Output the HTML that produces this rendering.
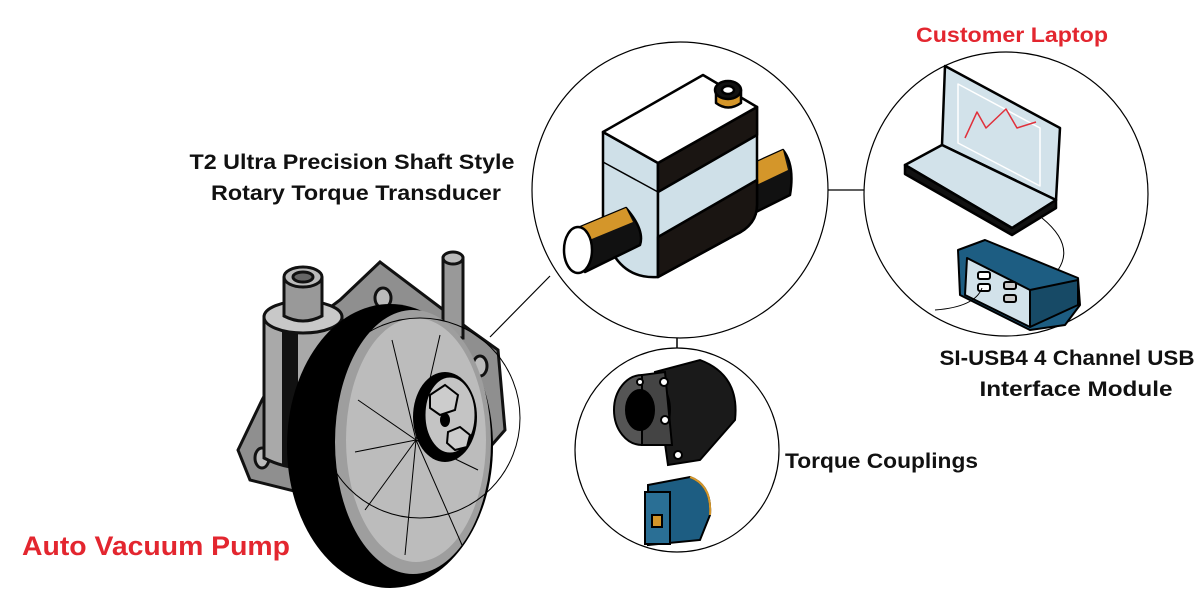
<!DOCTYPE html>
<html><head><style>
html,body{margin:0;padding:0;background:#fff;}
svg{display:block;}
text{font-family:"Liberation Sans",sans-serif;font-weight:bold;}
</style></head><body>
<svg width="1200" height="600" viewBox="0 0 1200 600" xmlns="http://www.w3.org/2000/svg">
<rect width="1200" height="600" fill="#fff"/>
<!-- connectors -->
<line x1="490" y1="337" x2="550" y2="276" stroke="#000" stroke-width="1.2"/>
<line x1="828" y1="190" x2="864" y2="190" stroke="#000" stroke-width="1.2"/>
<line x1="677" y1="335" x2="677" y2="354" stroke="#000" stroke-width="1.5"/>
<!-- circles -->
<circle cx="680" cy="190" r="148" fill="#fff" stroke="#000" stroke-width="1.2"/>
<circle cx="1006" cy="194" r="142" fill="#fff" stroke="#000" stroke-width="1.2"/>
<circle cx="677" cy="450" r="102" fill="#fff" stroke="#000" stroke-width="1.2"/>

<!-- PUMP -->
<g stroke="#111" stroke-width="3">
 <path d="M380,262 L470,330 L498,350 L505,430 L470,470 L330,500 L250,480 L238,450 L262,400 L300,330 L340,300 Z" fill="#8f8f8f"/>
 <ellipse cx="383" cy="298" rx="8" ry="10" fill="#bbb"/>
 <ellipse cx="480" cy="366" rx="7" ry="10" fill="#bbb"/>
 <ellipse cx="262" cy="458" rx="7" ry="10" fill="#bbb"/>
 <rect x="443" y="258" width="20" height="80" fill="#999"/>
 <ellipse cx="453" cy="258" rx="10" ry="6" fill="#bbb"/>
 <path d="M264,317 L264,458 Q303,478 342,458 L342,317 Z" fill="#a9a9a9"/>
 <rect x="282" y="320" width="16" height="145" fill="#111" stroke="none"/>
 <ellipse cx="303" cy="317" rx="39" ry="16" fill="#c8c8c8"/>
 <path d="M284,278 L284,316 Q303,326 322,316 L322,278 Z" fill="#999"/>
 <ellipse cx="303" cy="277" rx="19" ry="10" fill="#bbb"/>
 <ellipse cx="303" cy="277" rx="10" ry="5" fill="#666"/>
</g>
<ellipse cx="390" cy="446" rx="103" ry="142" fill="#000"/>
<ellipse cx="413" cy="442" rx="78" ry="132" fill="#9e9e9e"/>
<ellipse cx="416" cy="440" rx="70" ry="122" fill="#bcbcbc"/>
<g stroke="#000" stroke-width="1">
 <line x1="416" y1="440" x2="392" y2="340"/><line x1="416" y1="440" x2="440" y2="335"/>
 <line x1="416" y1="440" x2="358" y2="400"/><line x1="416" y1="440" x2="355" y2="452"/>
 <line x1="416" y1="440" x2="365" y2="510"/><line x1="416" y1="440" x2="405" y2="555"/>
 <line x1="416" y1="440" x2="462" y2="545"/><line x1="416" y1="440" x2="478" y2="470"/>
</g>
<ellipse cx="445" cy="417" rx="32" ry="45" fill="#000"/>
<ellipse cx="450" cy="415" rx="25" ry="38" fill="#c4c4c4" stroke="#000"/>
<polygon points="430,395 445,385 458,395 455,410 440,415 430,408" fill="#ccc" stroke="#000" stroke-width="2"/>
<polygon points="448,432 460,427 470,435 467,447 455,450 447,443" fill="#ccc" stroke="#000" stroke-width="2"/>
<ellipse cx="445" cy="420" rx="5" ry="7" fill="#000"/>
<circle cx="420" cy="418" r="100" fill="none" stroke="#000" stroke-width="1"/>

<!-- TRANSDUCER -->
<g stroke="#000" stroke-width="2.5" stroke-linejoin="round">
 <!-- right shaft -->
 <path d="M750,165 L783,150 Q795,165 790,195 L750,215 Z" fill="#111"/>
 <path d="M750,165 L783,150 L788,170 L750,188 Z" fill="#d4962a" stroke="none"/>
 <!-- left face -->
 <path d="M603,132 L658,163 L658,277 Q615,280 603,227 Z" fill="#cfe0e8"/>
 <line x1="603" y1="162" x2="658" y2="192" stroke-width="1.5"/>
 <!-- right face -->
 <path d="M658,163 L757,107 L757,205 Q757,225 735,235 L658,277 Z" fill="#cfe0e8"/>
 <path d="M658,163 L757,107 L757,135 L658,192 Z" fill="#1a1512"/>
 <path d="M658,237 L757,180 L757,205 Q757,225 735,235 L658,277 Z" fill="#1a1512"/>
 <!-- top -->
 <path d="M603,132 L703,75 L757,107 L658,163 Z" fill="#fff"/>
 <!-- left shaft -->
 <path d="M578,228 L626,208 Q645,230 640,245 L585,272 Z" fill="#111"/>
 <path d="M578,228 L626,208 L633,222 L582,243 Z" fill="#d4962a" stroke="none"/>
 <ellipse cx="578" cy="250" rx="14" ry="23" fill="#fff"/>
 <!-- connector -->
 <path d="M716,90 L716,103 Q728,112 741,103 L741,90 Z" fill="#d4962a"/>
 <ellipse cx="728" cy="90" rx="13" ry="9" fill="#111"/>
 <ellipse cx="728" cy="90" rx="6" ry="4" fill="#fff"/>
</g>

<!-- LAPTOP -->
<g stroke="#000" stroke-width="2.5" stroke-linejoin="round">
 <path d="M945,66 L1060,128 L1056,200 L942,145 Z" fill="#d2e2ea"/>
 <path d="M958,84 L1040,128 L1040,186 L958,143 Z" fill="none" stroke="#fff" stroke-width="1.5"/>
 <polyline points="965,138 977,112 986,128 1006,109 1017,128 1036,122" fill="none" stroke="#e0303b" stroke-width="1.5"/>
 <path d="M942,145 L905,165 L1012,228 L1056,200 Z" fill="#d2e2ea"/>
 <path d="M905,165 L905,174 L1012,235 L1056,208 L1056,200 L1012,228 Z" fill="#111"/>
</g>
<path d="M1042,218 Q1075,245 1058,270" fill="none" stroke="#000"/>
<!-- module -->
<g stroke="#000" stroke-width="2" stroke-linejoin="round">
 <path d="M958,250 L985,240 L1078,278 L1080,305 L1065,325 L1030,330 L960,295 Z" fill="#1d5d82"/>
 <path d="M967,258 L1030,290 L1030,327 L965,295 Z" fill="#d2e2ea"/>
 <path d="M1030,290 L1078,280 L1078,305 L1030,327 Z" fill="#174a66"/>
 <rect x="978" y="272" width="12" height="7" rx="2" fill="#fff"/><rect x="978" y="284" width="12" height="7" rx="2" fill="#fff"/>
 <rect x="1004" y="282" width="12" height="7" rx="2" fill="#ccc"/><rect x="1004" y="295" width="12" height="7" rx="2" fill="#ccc"/>
</g>
<path d="M982,288 Q975,307 935,310" fill="none" stroke="#000"/>

<!-- COUPLINGS -->
<g stroke="#000" stroke-width="2">
 <path d="M655,372 L700,360 Q740,375 735,420 L700,460 L668,465 Z" fill="#1a1a1a"/>
 <ellipse cx="642" cy="410" rx="28" ry="35" fill="#555"/>
 <path d="M642,375 L665,372 L672,445 L642,445 Z" fill="#444"/>
 <ellipse cx="640" cy="410" rx="14" ry="20" fill="#000"/>
 <circle cx="664" cy="382" r="4" fill="#fff"/><circle cx="665" cy="420" r="4" fill="#fff"/><circle cx="678" cy="455" r="4" fill="#fff"/><circle cx="640" cy="382" r="3" fill="#fff"/>
 <path d="M648,485 L690,477 Q712,485 710,515 L700,540 L648,545 Z" fill="#1d5d82"/>
 <path d="M690,477 Q712,485 710,515" fill="none" stroke="#d4962a" stroke-width="2"/>
 <rect x="645" y="492" width="25" height="52" fill="#2a6f95"/>
 <rect x="652" y="515" width="10" height="12" fill="#d4962a"/>
</g>

<!-- LABELS -->
<text x="1012" y="42" font-size="21" fill="#e3262f" text-anchor="middle" textLength="192" lengthAdjust="spacingAndGlyphs">Customer Laptop</text>
<text x="352" y="169" font-size="21" fill="#111" text-anchor="middle" textLength="325" lengthAdjust="spacingAndGlyphs">T2 Ultra Precision Shaft Style</text>
<text x="356" y="200" font-size="21" fill="#111" text-anchor="middle" textLength="290" lengthAdjust="spacingAndGlyphs">Rotary Torque Transducer</text>
<text x="1067" y="365" font-size="21" fill="#111" text-anchor="middle" textLength="255" lengthAdjust="spacingAndGlyphs">SI-USB4 4 Channel USB</text>
<text x="1076" y="396" font-size="21" fill="#111" text-anchor="middle" textLength="193" lengthAdjust="spacingAndGlyphs">Interface Module</text>
<text x="785" y="468" font-size="21" fill="#111" textLength="193" lengthAdjust="spacingAndGlyphs">Torque Couplings</text>
<text x="22" y="555" font-size="27" fill="#e3262f" textLength="268" lengthAdjust="spacingAndGlyphs">Auto Vacuum Pump</text>
</svg>
</body></html>
